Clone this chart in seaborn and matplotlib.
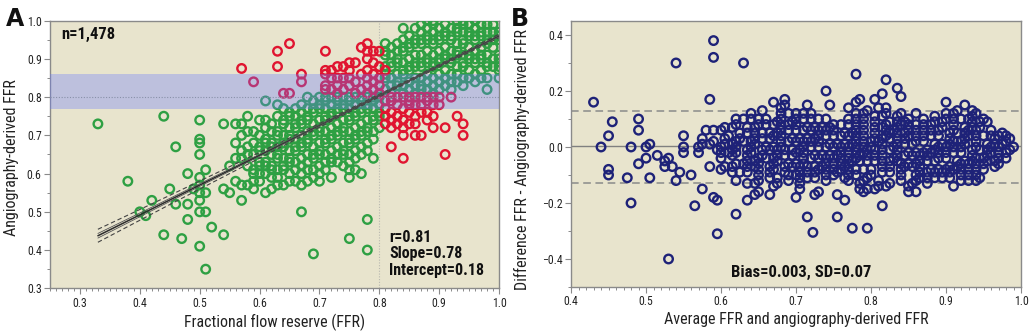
import matplotlib
matplotlib.use("Agg")
import matplotlib.pyplot as plt
import seaborn as sns
import numpy as np
import pandas as pd
from matplotlib import font_manager as fm
from matplotlib.ticker import MultipleLocator

# ---------------- data ----------------
# Panel A: concordant (green) points, FFR column -> angiography-derived FFR values (x100)
green_cols = {
    0.33: [73], 0.38: [58], 0.40: [50], 0.41: [49], 0.42: [53],
    0.44: [75, 44], 0.45: [56], 0.46: [67, 52], 0.47: [43],
    0.48: [60, 52, 48], 0.49: [56],
    0.50: [74, 69, 68, 65, 59, 57, 55, 53, 50, 41],
    0.51: [61, 55, 50, 35], 0.52: [46], 0.54: [73, 56, 44], 0.55: [62, 55],
    0.56: [73, 68, 64, 58], 0.57: [73, 70, 66, 64, 57, 53],
    0.58: [75, 71, 67, 65, 62, 57], 0.59: [71, 68, 65, 61, 60, 58, 56],
    0.60: [74, 70, 67, 66, 63, 62, 60, 58],
    0.61: [79, 74, 72, 69, 68, 66, 63, 62, 60, 55],
    0.62: [73, 71, 68, 67, 65, 62, 61, 59, 56],
    0.63: [78, 75, 71, 70, 67, 65, 64, 61, 59, 57],
    0.64: [77, 74, 73, 70, 68, 67, 64, 62, 61, 57],
    0.65: [76, 75, 72, 70, 69, 66, 64, 63, 60, 58],
    0.66: [77, 75, 73, 72, 69, 67, 66, 63, 61, 58],
    0.67: [78, 76, 74, 73, 70, 68, 67, 64, 62, 60, 57, 50],
    0.68: [80, 77, 75, 74, 71, 69, 68, 65, 63, 61, 58],
    0.69: [79, 77, 76, 73, 71, 70, 67, 65, 64, 61, 59, 39],
    0.70: [80, 78, 77, 74, 72, 71, 68, 66, 65, 62, 60, 58],
    0.71: [80, 79, 77, 75, 74, 71, 69, 68, 65, 63, 61],
    0.72: [80, 78, 76, 75, 72, 70, 69, 66, 64, 63, 59],
    0.73: [80, 79, 77, 76, 73, 71, 70, 67, 65, 63],
    0.74: [80, 78, 77, 74, 72, 71, 68, 66, 65, 62],
    0.75: [80, 79, 77, 75, 74, 71, 69, 68, 65, 63, 61, 59, 43],
    0.76: [80, 78, 76, 75, 72, 70, 69, 66, 64, 61],
    0.77: [80, 79, 77, 76, 73, 71, 70, 67, 65, 60],
    0.78: [80, 78, 77, 74, 72, 71, 68, 66, 48, 40],
    0.79: [80, 79, 77, 75, 74, 71, 69, 64],
    0.80: [80, 78, 76, 75, 72],
    0.81: [94, 92, 91, 88, 86, 85, 82],
    0.82: [93, 91, 89, 88, 85, 83, 81],
    0.83: [94, 92, 90, 89, 86, 84, 83],
    0.84: [98, 95, 93, 92, 89, 87, 86, 83, 81],
    0.85: [96, 94, 93, 90, 88, 87, 84, 82],
    0.86: [98, 95, 94, 91, 89, 88, 85, 83, 81],
    0.87: [99, 97, 95, 94, 91, 89, 88, 85, 83, 82],
    0.88: [100, 98, 96, 95, 92, 90, 89, 86, 84, 82],
    0.89: [100, 99, 97, 95, 94, 91, 89, 88, 85, 83, 81],
    0.90: [98, 96, 95, 92, 90, 89, 86, 84, 82],
    0.91: [99, 97, 96, 93, 91, 90, 87, 85, 83],
    0.92: [98, 96, 95, 92, 90, 89, 86, 84, 82],
    0.93: [100, 98, 97, 94, 92, 91, 88, 86, 84],
    0.94: [100, 99, 97, 95, 94, 91, 89, 88, 85, 83],
    0.95: [99, 97, 96, 93, 91, 90, 87, 85],
    0.96: [100, 98, 96, 95, 92, 90, 89, 86, 84],
    0.97: [99, 97, 96, 93, 91, 90, 87, 85],
    0.98: [99, 97, 95, 94, 91, 89, 88, 85, 82],
    0.99: [99, 97, 95, 93, 90, 88],
    1.00: [97, 96, 95, 91, 90, 88, 87, 85],
}

# Panel A: discordant (red) points
red_ffr = [0.57, 0.59, 0.63, 0.63, 0.64, 0.65, 0.65, 0.67, 0.67, 0.71, 0.71, 0.71,
           0.72, 0.73, 0.71, 0.71, 0.72, 0.73, 0.73, 0.74, 0.74, 0.75, 0.75, 0.75,
           0.75, 0.76, 0.76, 0.76, 0.77, 0.77, 0.77, 0.78, 0.78, 0.78, 0.78, 0.78,
           0.78, 0.78, 0.79, 0.79, 0.79, 0.79, 0.79, 0.80, 0.80, 0.80, 0.80, 0.80,
           0.81, 0.73, 0.72, 0.74,
           0.81, 0.81, 0.81, 0.82, 0.82, 0.82, 0.82, 0.82, 0.83, 0.83, 0.83, 0.84,
           0.84, 0.84, 0.84, 0.84, 0.84, 0.85, 0.85, 0.85, 0.86, 0.86, 0.86, 0.86,
           0.87, 0.87, 0.87, 0.88, 0.88, 0.88, 0.89, 0.89, 0.89, 0.90, 0.90, 0.91,
           0.91, 0.92, 0.93, 0.94, 0.94, 0.85, 0.83, 0.86, 0.88, 0.82, 0.89, 0.81,
           0.87, 0.85]
red_angio = [0.875, 0.84, 0.92, 0.88, 0.81, 0.94, 0.81, 0.86, 0.84, 0.92, 0.87, 0.86,
             0.87, 0.88, 0.83, 0.82, 0.85, 0.83, 0.81, 0.85, 0.82, 0.89, 0.87, 0.85,
             0.83, 0.89, 0.84, 0.81, 0.93, 0.86, 0.82, 0.94, 0.92, 0.90, 0.87, 0.85,
             0.83, 0.81, 0.92, 0.89, 0.86, 0.84, 0.82, 0.92, 0.88, 0.85, 0.83, 0.81,
             0.87, 0.85, 0.82, 0.88,
             0.77, 0.75, 0.73, 0.79, 0.76, 0.74, 0.72, 0.67, 0.78, 0.75, 0.73, 0.80,
             0.77, 0.74, 0.72, 0.70, 0.64, 0.79, 0.76, 0.73, 0.78, 0.75, 0.73, 0.70,
             0.80, 0.76, 0.70, 0.79, 0.76, 0.74, 0.78, 0.75, 0.72, 0.80, 0.78, 0.72,
             0.65, 0.80, 0.75, 0.73, 0.70, 0.80, 0.80, 0.80, 0.80, 0.80, 0.80, 0.79,
             0.78, 0.78]

# Regression (from the printed values) and its confidence curves
slope, intercept = 0.78, 0.18
reg_x = [0.33, 1.00]
ci_x = [0.33, 0.45, 0.55, 0.65, 0.75, 0.85, 0.95, 1.00]
ci_outer = [0.017, 0.012, 0.009, 0.006, 0.004, 0.003, 0.004, 0.005]
ci_inner = [0.006, 0.004, 0.003, 0.002, 0.0015, 0.001, 0.0015, 0.002]

# Panel B limits
bias = 0.003
loa_upper, loa_lower = 0.13, -0.13
band_lo, band_hi = 0.77, 0.86
cutoff = 0.80

# ---------------- build frames ----------------
g_ffr, g_angio = [], []
for xv, ys in green_cols.items():
    for yv in ys:
        g_ffr.append(xv)
        g_angio.append(yv / 100.0)
df_g = pd.DataFrame({"ffr": g_ffr, "angio": g_angio})
df_r = pd.DataFrame({"ffr": red_ffr, "angio": red_angio})
df_all = pd.concat([df_g, df_r], ignore_index=True)
df_b = pd.DataFrame({"mean": (df_all["ffr"] + df_all["angio"]) / 2,
                     "diff": df_all["ffr"] - df_all["angio"]})

# ---------------- style ----------------
names = {f.name for f in fm.fontManager.ttflist}
cond = next((n for n in ["Liberation Sans Narrow", "DejaVu Sans Condensed",
                         "Roboto Condensed"] if n in names), "DejaVu Sans")
sns.set_theme(style="white")
plt.rcParams["font.family"] = [cond, "DejaVu Sans"]

BG = "#E8E4CD"
GREEN = "#2EA043"
RED = "#E01530"
NAVY = "#1E2278"
SPINE = "#8A8A8A"
TXT = "#222222"

fig = plt.figure(figsize=(10.33, 3.31), dpi=100)
axA = fig.add_axes([0.0484, 0.129, 0.4347, 0.8086])
axB = fig.add_axes([0.5528, 0.133, 0.4356, 0.8036])

for ax in (axA, axB):
    ax.set_facecolor(BG)
    for s in ax.spines.values():
        s.set_color(SPINE)
        s.set_linewidth(1.0)
    ax.tick_params(which="major", direction="out", length=4, width=0.8,
                   color=SPINE, labelsize=8.5, labelcolor=TXT, pad=2)
    ax.tick_params(which="minor", direction="out", length=2.5, width=0.7,
                   color=SPINE)
    ax.tick_params(left=True, bottom=True, which="both")

# ---------------- Panel A ----------------
ms, mlw = 38, 1.7
sns.scatterplot(data=df_g, x="ffr", y="angio", ax=axA, s=ms, color=GREEN,
                facecolor="none", edgecolor=GREEN, linewidth=mlw, zorder=3,
                legend=False)
sns.scatterplot(data=df_r, x="ffr", y="angio", ax=axA, s=ms, color=RED,
                facecolor="none", edgecolor=RED, linewidth=mlw, zorder=3,
                legend=False)
for coll, col in zip(axA.collections[-2:], [GREEN, RED]):
    coll.set_facecolor("none")
    coll.set_edgecolor(col)

axA.axhspan(band_lo, band_hi, color=(0.40, 0.47, 1.0), alpha=0.33, lw=0, zorder=4)
axA.axhline(cutoff, color="#8890A8", lw=0.8, ls=(0, (1, 1.5)), zorder=4.5)
axA.axvline(cutoff, color="#B8B8B0", lw=0.8, ls=(0, (1, 1.5)), zorder=2)

cx = np.array(ci_x)
cy = intercept + slope * cx
rx = np.array(reg_x)
axA.plot(rx, intercept + slope * rx, color="#2b2b2b", lw=1.1, zorder=6)
axA.plot(cx, cy + np.array(ci_inner), color="#555555", lw=0.6, zorder=6)
axA.plot(cx, cy - np.array(ci_inner), color="#555555", lw=0.6, zorder=6)
axA.plot(cx, cy + np.array(ci_outer), color="#444444", lw=0.8, ls=(0, (4, 2.5)), zorder=6)
axA.plot(cx, cy - np.array(ci_outer), color="#444444", lw=0.8, ls=(0, (4, 2.5)), zorder=6)

axA.set_xlim(0.25, 1.0)
axA.set_ylim(0.3, 1.0)
axA.xaxis.set_minor_locator(MultipleLocator(0.01))
axA.yaxis.set_minor_locator(MultipleLocator(0.05))
axA.set_xticks([0.3, 0.4, 0.5, 0.6, 0.7, 0.8, 0.9, 1.0])
axA.set_xticklabels(["0.3", "0.4", "0.5", "0.6", "0.7", "0.8", "0.9", "1.0"])
axA.set_yticks([0.3, 0.4, 0.5, 0.6, 0.7, 0.8, 0.9, 1.0])
axA.set_yticklabels(["0.3", "0.4", "0.5", "0.6", "0.7", "0.8", "0.9", "1.0"])
axA.set_xlabel("Fractional flow reserve (FFR)", fontsize=11.5, color=TXT)
axA.set_ylabel("Angiography-derived FFR", fontsize=11.5, color=TXT)
axA.xaxis.set_label_coords(0.5, -0.095)
axA.yaxis.set_label_coords(-0.07, 0.49)

axA.text(0.024, 0.975, "n=1,478", transform=axA.transAxes, ha="left", va="top",
         fontsize=12, fontweight="bold", color="#111111", zorder=8)
axA.text(0.755, 0.04, "r=0.81\nSlope=0.78\nIntercept=0.18",
         transform=axA.transAxes, ha="left", va="bottom", fontsize=11.5,
         fontweight="bold", color="#111111", linespacing=1.1, zorder=8)

# ---------------- Panel B ----------------
axB.axhline(loa_upper, color="#8A8A8A", lw=1.1, ls=(0, (5, 3)), zorder=2)
axB.axhline(loa_lower, color="#8A8A8A", lw=1.1, ls=(0, (5, 3)), zorder=2)
axB.axhline(bias, color="#808080", lw=1.0, zorder=2)
sns.scatterplot(data=df_b, x="mean", y="diff", ax=axB, s=ms, color=NAVY,
                facecolor="none", edgecolor=NAVY, linewidth=mlw, zorder=3,
                legend=False)
axB.collections[-1].set_facecolor("none")
axB.collections[-1].set_edgecolor(NAVY)

axB.set_xlim(0.4, 1.0)
axB.set_ylim(-0.5, 0.45)
axB.set_xticks([0.4, 0.5, 0.6, 0.7, 0.8, 0.9, 1.0])
axB.set_xticklabels(["0.4", "0.5", "0.6", "0.7", "0.8", "0.9", "1.0"])
axB.xaxis.set_minor_locator(MultipleLocator(0.01))
axB.set_yticks([-0.4, -0.2, 0.0, 0.2, 0.4])
axB.set_yticklabels(["\u22120.4", "\u22120.2", "0.0", "0.2", "0.4"])
axB.yaxis.set_minor_locator(MultipleLocator(0.1))
axB.set_xlabel("Average FFR and angiography-derived FFR", fontsize=11.5, color=TXT)
axB.set_ylabel("Difference FFR - Angiography-derived FFR", fontsize=11.5, color=TXT)
axB.xaxis.set_label_coords(0.5, -0.095)
axB.yaxis.set_label_coords(-0.092, 0.48)
axB.text(0.511, 0.056, "Bias=0.003, SD=0.07", transform=axB.transAxes,
         ha="center", va="center", fontsize=12, fontweight="bold",
         color="#111111", zorder=8)

# panel letters
fig.text(0.006, 0.943, "A", fontsize=17, fontweight="bold", va="center",
         ha="left", color="#111111", family="DejaVu Sans")
fig.text(0.495, 0.943, "B", fontsize=17, fontweight="bold", va="center",
         ha="left", color="#111111", family="DejaVu Sans")

fig.savefig("out.png", dpi=100, facecolor="white")
